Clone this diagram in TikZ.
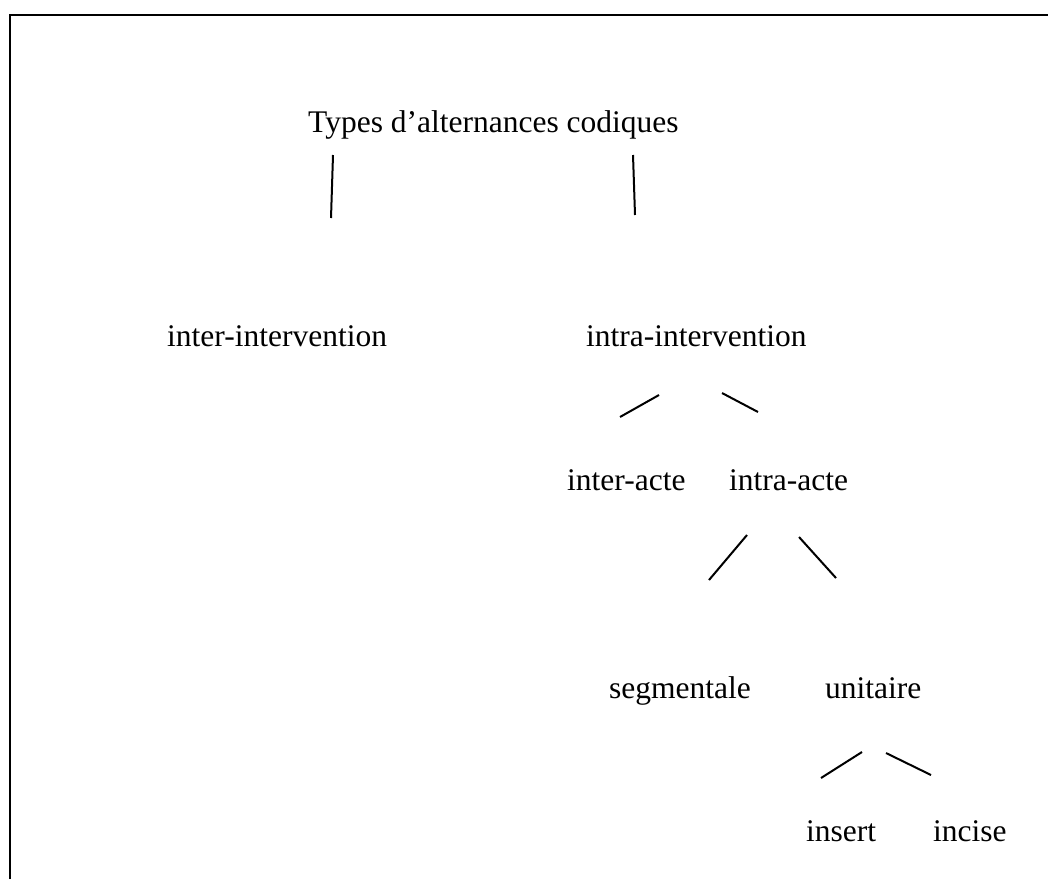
\documentclass[tikz,border=0pt]{standalone}
\usepackage{fontspec}
\setmainfont{Liberation Serif}
\begin{document}
\begin{tikzpicture}[x=1pt,y=-1pt,
  lbl/.style={anchor=base west,inner sep=0pt,font=\fontsize{31.5}{38}\selectfont},
  branch/.style={line width=2pt,line cap=butt},
  frameline/.style={line width=2.6pt}]
\useasboundingbox (0,0) rectangle (1048,879);
% frame (top and left only)
\coordinate (fA) at (10,879);
\coordinate (fB) at (10,15);
\coordinate (fC) at (1048,15);
\draw[frameline] (fA) -- (fB) -- (fC);
% texts
\node[lbl] (root) at (308,132) {Types d’alternances codiques};
\node[lbl] (inter) at (167,346) {inter-intervention};
\node[lbl] (intra) at (586,346) {intra-intervention};
\node[lbl] (interacte) at (567,490) {inter-acte};
\node[lbl] (intraacte) at (729,490) {intra-acte};
\node[lbl] (segm) at (609,698) {segmentale};
\node[lbl] (unit) at (825,698) {unitaire};
\node[lbl] (insert) at (806,841) {insert};
\node[lbl] (incise) at (933,841) {incise};
% branch end points
\coordinate (r1a) at (333,155); \coordinate (r1b) at (331,218);
\coordinate (r2a) at (633,155); \coordinate (r2b) at (635,215);
\coordinate (i1a) at (659,395); \coordinate (i1b) at (620,417);
\coordinate (i2a) at (722,393); \coordinate (i2b) at (758,412);
\coordinate (a1a) at (747,535); \coordinate (a1b) at (709,580);
\coordinate (a2a) at (799,537); \coordinate (a2b) at (836,578);
\coordinate (u1a) at (862,752); \coordinate (u1b) at (821,778);
\coordinate (u2a) at (886,753); \coordinate (u2b) at (931,775);
\foreach \a/\b in {r1a/r1b,r2a/r2b,i1a/i1b,i2a/i2b,a1a/a1b,a2a/a2b,u1a/u1b,u2a/u2b}
  \draw[branch] (\a) -- (\b);
\end{tikzpicture}
\end{document}
